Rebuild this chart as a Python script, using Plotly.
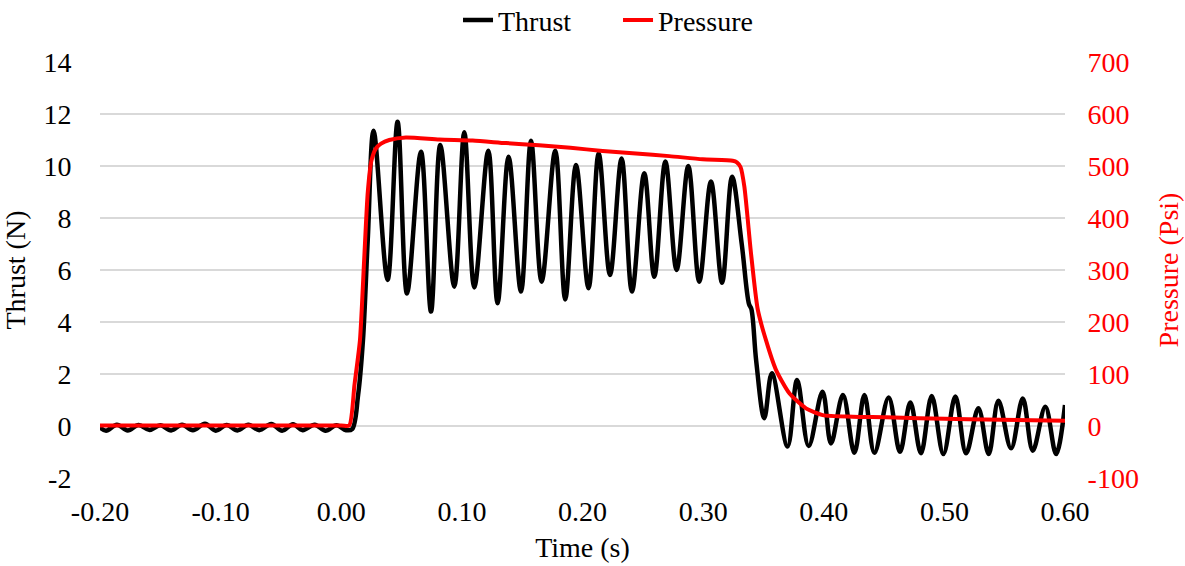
import plotly.graph_objects as go

# ---- data ----
time_thrust = [
    -0.200, -0.195, -0.186, -0.177, -0.168, -0.159, -0.150, -0.141, -0.132, -0.123,
    -0.113, -0.104, -0.095, -0.086, -0.077, -0.068, -0.058, -0.049, -0.040, -0.032,
    -0.022, -0.013, -0.004, 0.004, 0.009, 0.014, 0.018, 0.022, 0.0268, 0.0384,
    0.0467, 0.0545, 0.0661, 0.0744, 0.0821, 0.0937, 0.1020, 0.1103, 0.1219, 0.1296,
    0.1387, 0.1490, 0.1573, 0.1661, 0.1774, 0.1857, 0.1946, 0.2050, 0.2134, 0.2228,
    0.2324, 0.2410, 0.2512, 0.2595, 0.2687, 0.2780, 0.2877, 0.2968, 0.3065, 0.3157,
    0.3240, 0.3320, 0.3380, 0.3400, 0.3440, 0.3507, 0.3570, 0.3700, 0.3779, 0.3875,
    0.3990, 0.4060, 0.4159, 0.4254, 0.4337, 0.4420, 0.4538, 0.4632, 0.4718, 0.4806,
    0.4895, 0.4992, 0.5091, 0.5180, 0.5282, 0.5367, 0.5448, 0.5553, 0.5650, 0.5733,
    0.5837, 0.5926, 0.6000,
]
thrust = [
    -0.05, -0.18, 0.05, -0.17, 0.04, -0.15, 0.03, -0.17, 0.05, -0.16,
    0.09, -0.18, 0.04, -0.17, 0.05, -0.16, 0.08, -0.18, 0.07, -0.16,
    0.05, -0.18, 0.03, -0.16, -0.12, 1.2, 3.3, 7.2, 11.36, 5.62,
    11.70, 5.10, 10.55, 4.40, 10.81, 5.36, 11.30, 5.33, 10.59, 4.72,
    10.36, 5.17, 10.97, 5.55, 10.59, 4.87, 10.04, 5.30, 10.49, 5.81,
    10.29, 5.17, 9.72, 5.74, 10.17, 6.00, 10.00, 5.55, 9.40, 5.51,
    9.59, 7.0, 4.7, 4.5, 2.5, 0.30, 2.03, -0.79, 1.77, -0.77,
    1.32, -0.67, 1.19, -1.03, 1.19, -1.03, 1.10, -0.99, 0.90, -1.05,
    1.15, -1.08, 1.13, -1.05, 0.68, -1.08, 0.97, -0.86, 1.06, -0.95,
    0.74, -1.08, 0.81,
]

time_pressure = [
    -0.200, 0.000, 0.0066, 0.0110, 0.0155, 0.0190, 0.0220, 0.0250, 0.0288, 0.0330,
    0.0398, 0.0536, 0.0813, 0.1089, 0.1366, 0.1640, 0.1900, 0.2167, 0.2443, 0.2720,
    0.2996, 0.3245, 0.3280, 0.3310, 0.3342, 0.3397, 0.3452, 0.3521, 0.3604, 0.3715,
    0.3853, 0.3991, 0.4240, 0.4516, 0.4790, 0.5200, 0.6000,
]
pressure = [
    1, 1, 1, 80, 165, 320, 450, 510, 534, 543,
    550, 555, 551, 549, 544, 540, 535, 529, 524, 519,
    513, 510, 507, 498, 460, 332, 225, 165, 108, 63,
    34, 21, 18, 17, 15, 13, 10,
]

x_tick_vals = [-0.2, -0.1, 0.0, 0.1, 0.2, 0.3, 0.4, 0.5, 0.6]
x_tick_text = ["-0.20", "-0.10", "0.00", "0.10", "0.20", "0.30", "0.40", "0.50", "0.60"]
y_tick_vals = [-2, 0, 2, 4, 6, 8, 10, 12, 14]
y_tick_text = ["-2", "0", "2", "4", "6", "8", "10", "12", "14"]
y2_tick_vals = [-100, 0, 100, 200, 300, 400, 500, 600, 700]
y2_tick_text = ["-100", "0", "100", "200", "300", "400", "500", "600", "700"]

FONT = "Liberation Serif, Times New Roman, serif"
FS = 28

fig = go.Figure()
fig.add_trace(go.Scatter(
    x=time_thrust, y=thrust, name="Thrust", mode="lines",
    line=dict(color="black", width=4.5, shape="spline", smoothing=1.0),
    yaxis="y",
))
fig.add_trace(go.Scatter(
    x=time_pressure, y=pressure, name="Pressure", mode="lines",
    line=dict(color="#ff0000", width=4, shape="spline", smoothing=0.6),
    yaxis="y2",
))

fig.update_layout(
    width=1185, height=566,
    margin=dict(l=100, r=120, t=62, b=88, autoexpand=False),
    paper_bgcolor="white", plot_bgcolor="white",
    font=dict(family=FONT, size=FS, color="black"),
    showlegend=True,
    legend=dict(orientation="h", x=0.371, xanchor="left", y=1.10, yanchor="middle",
                font=dict(family=FONT, size=FS), bgcolor="rgba(0,0,0,0)",
                entrywidth=115, entrywidthmode="pixels", tracegroupgap=0),
    xaxis=dict(
        range=[-0.2, 0.6], tickvals=x_tick_vals, ticktext=x_tick_text,
        showgrid=False, zeroline=False, showline=False, automargin=False,
        ticks="outside", ticklen=8, tickcolor="rgba(0,0,0,0)",
        title=dict(text="Time (s)", standoff=11, font=dict(size=FS)),
        tickfont=dict(size=FS),
    ),
    yaxis=dict(
        range=[-2, 14], tickvals=y_tick_vals, ticktext=y_tick_text,
        showgrid=True, gridcolor="#d9d9d9", gridwidth=1.5,
        zeroline=False, showline=False, automargin=False,
        ticks="outside", ticklen=22, tickcolor="rgba(0,0,0,0)",
        title=dict(text="Thrust (N)", standoff=12, font=dict(size=FS)),
        tickfont=dict(size=FS),
    ),
    yaxis2=dict(
        range=[-100, 700], tickvals=y2_tick_vals, ticktext=y2_tick_text,
        overlaying="y", side="right",
        showgrid=False, zeroline=False, showline=False, automargin=False,
        ticks="outside", ticklen=16, tickcolor="rgba(0,0,0,0)",
        title=dict(text="Pressure (Psi)", standoff=20, font=dict(size=FS, color="#ff0000")),
        tickfont=dict(size=FS, color="#ff0000"),
    ),
)

fig.write_html("out.html", config={"displayModeBar": False},
               post_script="document.body.style.margin='0px';")
